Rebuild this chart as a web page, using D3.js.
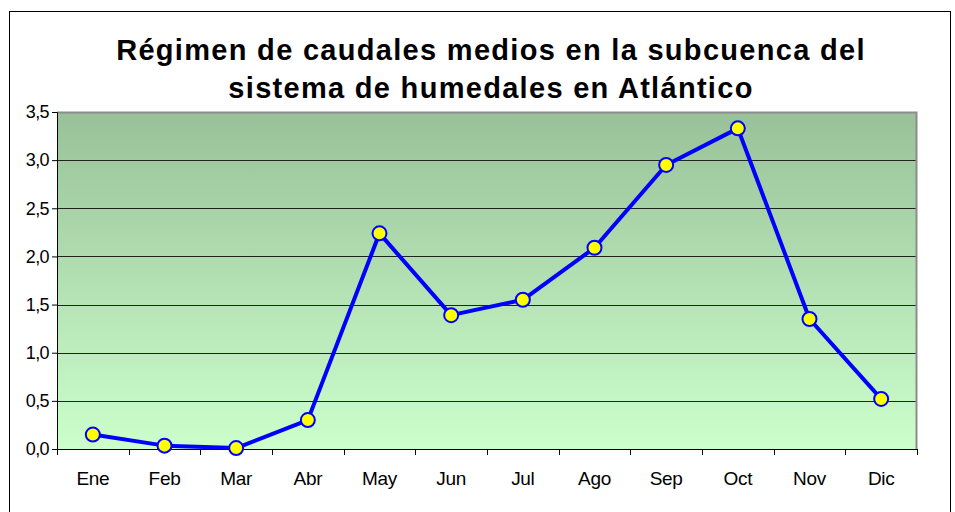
<!DOCTYPE html>
<html>
<head>
<meta charset="utf-8">
<script src="https://cdn.jsdelivr.net/npm/d3@7"></script>
<style>
  body { margin: 0; background: #fff; }
  svg { display: block; font-family: "Liberation Sans", Arial, sans-serif; }
</style>
</head>
<body>
<svg id="chart" width="955" height="512"></svg>
<script>
// datos
var meses = ["Ene", "Feb", "Mar", "Abr", "May", "Jun", "Jul", "Ago", "Sep", "Oct", "Nov", "Dic"];
var caudales = [0.15, 0.035, 0.01, 0.30, 2.24, 1.39, 1.55, 2.09, 2.95, 3.33, 1.35, 0.52];
var yTicks = [0, 0.5, 1, 1.5, 2, 2.5, 3, 3.5];
var titulo = ["Régimen de caudales medios en la subcuenca del", "sistema de humedales en Atlántico"];

var svg = d3.select("#chart"),
    margin = { top: 112, right: 38, bottom: 63, left: 57 },
    width = +svg.attr("width") - margin.left - margin.right,
    height = +svg.attr("height") - margin.top - margin.bottom;

// marco exterior
svg.append("rect")
    .attr("x", 9.5).attr("y", 11.5)
    .attr("width", 941).attr("height", 600)
    .attr("fill", "none").attr("stroke", "#000").attr("stroke-width", 1);

svg.selectAll(".titulo")
    .data(titulo)
    .enter().append("text")
    .attr("class", "titulo")
    .attr("x", 491)
    .attr("y", function (d, i) { return 60 + i * 38; })
    .attr("text-anchor", "middle")
    .attr("font-size", "29px")
    .attr("font-weight", "bold")
    .attr("letter-spacing", "1.3px")
    .attr("fill", "#000")
    .text(function (d) { return d; });

var defs = svg.append("defs");
var grad = defs.append("linearGradient")
    .attr("id", "fondo")
    .attr("x1", 0).attr("y1", 0).attr("x2", 0).attr("y2", 1);
grad.append("stop").attr("offset", "0%").attr("stop-color", "#99c199");
grad.append("stop").attr("offset", "100%").attr("stop-color", "#ccffcc");

var x = d3.scaleBand().domain(meses).range([0, width]).padding(0);
var y = d3.scaleLinear().domain([0, 3.5]).range([height, 0]);

var g = svg.append("g")
    .attr("transform", "translate(" + margin.left + "," + margin.top + ")");

g.append("rect")
    .attr("width", width).attr("height", height)
    .attr("fill", "url(#fondo)");

// lineas de division
g.selectAll(".grid")
    .data(yTicks.slice(1, -1))
    .enter().append("line")
    .attr("class", "grid")
    .attr("x1", 0).attr("x2", width)
    .attr("y1", function (d) { return Math.round(y(d)) + 0.5; })
    .attr("y2", function (d) { return Math.round(y(d)) + 0.5; })
    .attr("stroke", "#222").attr("stroke-width", 1);

// borde gris arriba y derecha
g.append("path")
    .attr("d", "M0,0.5H" + (width - 0.5) + "V" + height)
    .attr("fill", "none").attr("stroke", "#8c8c8c").attr("stroke-width", 2);

var fmt = function (d) { return d.toFixed(1).replace(".", ","); };

var yAxis = g.append("g")
    .call(d3.axisLeft(y).tickValues(yTicks).tickFormat(fmt).tickSize(5).tickPadding(3));
yAxis.select(".domain").attr("stroke", "#000");
yAxis.selectAll("text").attr("font-size", "18px").attr("fill", "#000").attr("letter-spacing", "-0.6px");

var xAxis = g.append("g")
    .attr("transform", "translate(0," + height + ")")
    .call(d3.axisBottom(x).tickSize(0).tickPadding(23));
xAxis.select(".domain").attr("stroke", "#000");
xAxis.selectAll("text").attr("font-size", "19px").attr("fill", "#000").attr("letter-spacing", "-0.3px");

// marcas entre categorias
xAxis.selectAll(".sep")
    .data(meses.concat([null]))
    .enter().append("line")
    .attr("class", "sep")
    .attr("x1", function (d, i) { return Math.round(i * x.step()) + 0.5; })
    .attr("x2", function (d, i) { return Math.round(i * x.step()) + 0.5; })
    .attr("y1", 0).attr("y2", 6)
    .attr("stroke", "#000");

var line = d3.line()
    .x(function (d, i) { return x(meses[i]) + x.bandwidth() / 2; })
    .y(function (d) { return y(d); });

g.append("path")
    .datum(caudales)
    .attr("fill", "none")
    .attr("stroke", "#0000ff")
    .attr("stroke-width", 4)
    .attr("stroke-linejoin", "round")
    .attr("d", line);

g.selectAll(".punto")
    .data(caudales)
    .enter().append("circle")
    .attr("class", "punto")
    .attr("cx", function (d, i) { return x(meses[i]) + x.bandwidth() / 2; })
    .attr("cy", function (d) { return y(d); })
    .attr("r", 7)
    .attr("fill", "#ffff00")
    .attr("stroke", "#0000ff")
    .attr("stroke-width", 2);
</script>
</body>
</html>
